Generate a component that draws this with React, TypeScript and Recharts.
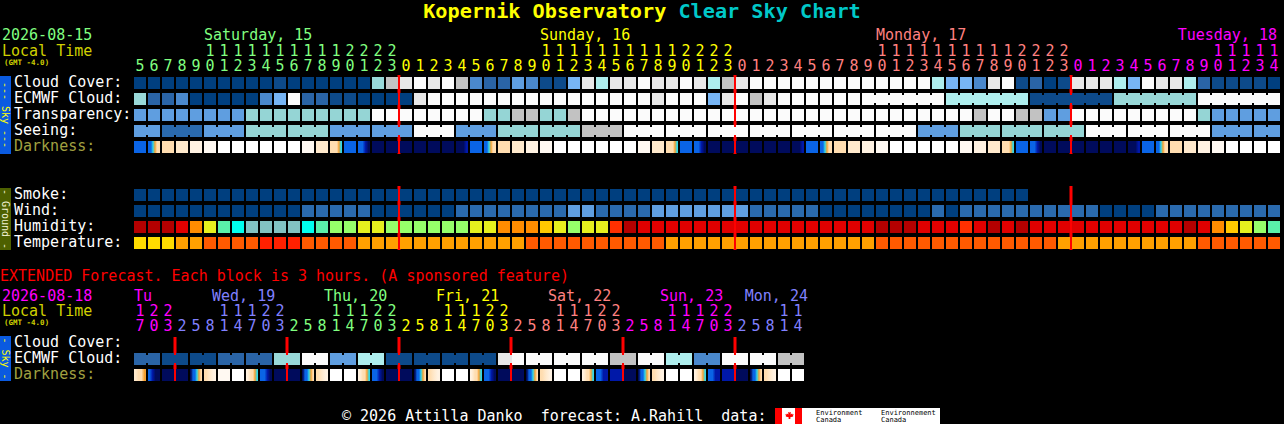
import React from 'react';
import { ScatterChart, Scatter, XAxis, YAxis, ReferenceLine } from 'recharts';

// hourly forecast, Sat 15 05h .. Tue 18 14h (82 hours)
// cloud cover, %
const CLOUD = [
  0, 0, 0, 0, 0, 0, 0, 0, 0, 0,
  10, 0, 0, 0, 0, 0, 0, 60, 80, 90,
  100, 90, 100, 80, 30, 20, 20, 40, 30, 10,
  10, 50, 90, 70, 90, 90, 100, 90, 90, 100,
  90, 70, 80, 90, 100, 100, 100, 100, 100, 100,
  100, 100, 100, 100, 100, 100, 100, 70, 50, 50,
  30, 90, 100, 10, 20, 0, 10, 90, 90, 90,
  70, 50, 100, 90, 90, 70, 20, 10, 10, 10,
  10, 0,
];

// ECMWF cloud, %
const ECMWF = [
  60, 20, 20, 30, 0, 0, 0, 0, 0, 30,
  50, 100, 20, 20, 10, 10, 0, 0, 0, 0,
  90, 100, 100, 100, 100, 100, 100, 100, 100, 100,
  100, 100, 100, 100, 100, 100, 100, 90, 100, 100,
  100, 50, 90, 100, 80, 90, 100, 100, 100, 100,
  100, 100, 100, 100, 100, 100, 100, 100, 70, 70,
  70, 70, 70, 70, 10, 10, 10, 10, 10, 10,
  60, 60, 60, 60, 60, 60, 100, 100, 100, 100,
  100, 100,
];

// 0 transparent .. 4 poor, 5 too cloudy
const TRANSPARENCY = [
  2, 2, 2, 2, 2, 2, 2, 2, 3, 3,
  3, 3, 3, 3, 3, 3, 3, 5, 5, 5,
  5, 5, 5, 5, 5, 3, 3, 4, 4, 3,
  3, 4, 5, 5, 5, 5, 5, 5, 5, 5,
  5, 5, 5, 5, 5, 5, 5, 5, 5, 5,
  5, 5, 5, 5, 5, 5, 5, 5, 5, 5,
  4, 5, 5, 4, 4, 2, 2, 5, 5, 5,
  5, 5, 5, 5, 5, 5, 3, 2, 2, 2,
  2, 2,
];

// 0 excellent .. 4 bad, 5 too cloudy to forecast
const SEEING = [
  2, 2, 1, 1, 1, 2, 2, 2, 3, 3,
  3, 3, 3, 3, 2, 2, 2, 2, 2, 2,
  5, 5, 5, 2, 2, 2, 3, 3, 3, 3,
  3, 3, 4, 4, 4, 5, 5, 5, 5, 5,
  5, 5, 5, 5, 5, 5, 5, 5, 5, 5,
  5, 5, 5, 5, 5, 5, 2, 2, 2, 3,
  3, 3, 3, 3, 3, 3, 3, 3, 5, 5,
  5, 5, 5, 5, 5, 5, 5, 2, 2, 2,
  2, 2,
];

// darkness, one letter per part of the hour (N night .. W daylight)
const DARKNESS = [
  'B', 'BBCOPP', 'P', 'Q', 'R', 'S', 'W', 'W', 'W', 'W',
  'W', 'W', 'S', 'Q', 'PPPPOC', 'B', 'BBDN', 'N', 'N', 'N',
  'N', 'N', 'N', 'NNND', 'B', 'BBCOPP', 'P', 'Q', 'R', 'S',
  'W', 'W', 'W', 'W', 'W', 'W', 'S', 'Q', 'PPPPOC', 'B',
  'BBDN', 'N', 'N', 'N', 'N', 'N', 'N', 'NNND', 'B', 'BBCOPP',
  'P', 'Q', 'R', 'S', 'W', 'W', 'W', 'W', 'W', 'S',
  'R', 'Q', 'PPPPOC', 'B', 'BBDN', 'N', 'N', 'N', 'N', 'N',
  'N', 'NNND', 'B', 'BBCOPP', 'P', 'Q', 'R', 'S', 'W', 'W',
  'W', 'W',
];

// smoke, ug/m3 (only the first 64 hours)
const SMOKE = [
  0, 0, 0, 0, 0, 0, 0, 0, 0, 0, 0, 0, 0, 0, 0, 0,
  0, 0, 0, 0, 0, 0, 0, 0, 0, 0, 0, 0, 0, 0, 0, 0,
  0, 0, 0, 0, 0, 0, 0, 0, 0, 0, 0, 0, 0, 0, 0, 0,
  0, 0, 0, 0, 0, 0, 0, 0, 0, 0, 0, 0, 0, 0, 0, 0,
];

// wind, mph
const WIND = [
  3, 3, 3, 3, 3, 3, 3, 3, 3, 3,
  3, 3, 8, 8, 8, 8, 8, 3, 3, 3,
  3, 3, 3, 8, 8, 8, 8, 8, 8, 8,
  8, 14, 14, 8, 8, 8, 8, 14, 14, 14,
  14, 14, 14, 14, 8, 8, 8, 8, 8, 3,
  3, 3, 3, 3, 3, 3, 3, 8, 3, 8,
  8, 8, 8, 8, 8, 8, 8, 8, 8, 3,
  3, 3, 3, 8, 8, 8, 8, 8, 8, 8,
  8, 8,
];

// humidity, %
const HUMIDITY = [
  97, 97, 97, 90, 72, 62, 52, 47, 42, 42,
  42, 42, 47, 52, 57, 57, 62, 62, 57, 57,
  57, 57, 57, 57, 62, 62, 72, 72, 72, 67,
  62, 57, 62, 62, 82, 97, 90, 90, 90, 90,
  90, 90, 90, 90, 90, 90, 90, 90, 90, 90,
  90, 90, 90, 97, 97, 97, 90, 90, 90, 82,
  90, 97, 90, 97, 90, 90, 90, 90, 90, 90,
  90, 90, 90, 90, 90, 97, 90, 72, 67, 62,
  57, 52,
];

// temperature, C
const TEMPERATURE = [
  18, 18, 18, 21, 21, 24, 24, 24, 24, 27,
  27, 27, 24, 24, 24, 24, 21, 21, 21, 21,
  21, 21, 21, 21, 21, 21, 21, 21, 24, 24,
  24, 24, 24, 24, 24, 24, 24, 24, 21, 21,
  21, 21, 21, 21, 21, 21, 21, 21, 21, 21,
  21, 21, 21, 24, 24, 24, 24, 24, 24, 24,
  24, 24, 24, 24, 24, 24, 21, 21, 21, 21,
  21, 21, 21, 21, 21, 21, 24, 24, 24, 24,
  24, 24,
];

// extended forecast, 3-hour blocks, Tue 18 17h .. Mon 24 14h
const EXT_ECMWF = [
  20, 20, 10, 10, 10, 10, 20, 20, 20, 20,
  60, 60, 100, 100, 40, 40, 70, 70, 10, 10,
  10, 10, 10, 10, 10, 10, 90, 100, 100, 100,
  100, 100, 100, 100, 80, 80, 100, 100, 70, 70,
  30, 30, 100, 100, 100, 100, 80, 80,
];

const EXT_DARKNESS = [
  'QPPO', 'BDNN', 'N', 'N', 'NBBCOP', 'PQR', 'S', 'W', 'RQPPOC', 'BBDN',
  'N', 'N', 'NBBCOP', 'PQR', 'W', 'W', 'RQPPOC', 'BBDN', 'N', 'N',
  'NBBCOP', 'PQR', 'W', 'W', 'RQPPOC', 'BBDN', 'N', 'N', 'NBBCOP', 'PQR',
  'W', 'W', 'RQPPOC', 'BBDD', 'D', 'N', 'NBBCOP', 'PQR', 'W', 'W',
  'RQPPOC', 'BBDD', 'D', 'N', 'NBBCOP', 'PQR', 'W', 'W',
];

const MAIN_DAYS = [
  { name: 'Saturday, 15', start: 5, count: 19 },
  { name: 'Sunday, 16', start: 0, count: 24 },
  { name: 'Monday, 17', start: 0, count: 24 },
  { name: 'Tuesday, 18', start: 0, count: 15 },
];

const EXT_DAYS = [
  { name: 'Tu', start: 17, count: 3 },
  { name: 'Wed, 19', start: 2, count: 8 },
  { name: 'Thu, 20', start: 2, count: 8 },
  { name: 'Fri, 21', start: 2, count: 8 },
  { name: 'Sat, 22', start: 2, count: 8 },
  { name: 'Sun, 23', start: 2, count: 8 },
  { name: 'Mon, 24', start: 2, count: 5 },
];

// ---- look ----
const W = 1284;
const H = 424;
const FONT = '"DejaVu Sans Mono", monospace';
const FS = 15;
const CHAR_W = FS * 0.602;

const CLOUD_COLORS = ['#003F7F', '#0D4A8A', '#2A64A6', '#4A88CC', '#5F9EE0', '#77B5F5', '#99D9D9', '#AEEEEE', '#C2C2C2', '#E8E8E8', '#FBFBFB'];
const SKY_COLORS = ['#003F7F', '#2A6AAE', '#5F9EE0', '#95D5D5', '#C2C2C2', '#FBFBFB'];
const DARK_COLORS: Record<string, string> = {
  N: '#000B5C', D: '#0018A8', B: '#0A64E6', C: '#30D8E8', O: '#F5A030',
  P: '#FFDDB0', Q: '#FFE9CC', R: '#FFF2E2', S: '#FFF9F2', W: '#FFFFFF',
};
const DAY_COLORS = ['#80FF80', '#FFFF00', '#FF8080', '#FF00FF', '#8080FF'];

const windColor = (v: number) => (v <= 5 ? '#003F7F' : v <= 11 ? '#2A6AAE' : '#5F9EE0');
const tempColor = (v: number) => (v < 20 ? '#FFDC00' : v < 23 ? '#FFA000' : v < 26 ? '#FF5A00' : '#FF2000');
const HUM_STEPS: [number, string][] = [
  [45, '#82C2C2'], [50, '#00FFEE'], [55, '#5AF0AA'], [60, '#96FF6A'], [65, '#E6F01E'],
  [70, '#FFC800'], [75, '#FF8C00'], [85, '#FF3000'], [95, '#E00000'], [101, '#B40000'],
];
const humColor = (v: number) => HUM_STEPS.find(([lim]) => v < lim)![1];

// row centres (px)
const ROW = {
  cloud: 83, ecmwf: 99, transp: 115, seeing: 131, dark: 147,
  smoke: 195, wind: 211, hum: 227, temp: 243,
  xEcmwf: 359, xDark: 375,
};

// column i is centred at 140 + 14 i
const X_DOMAIN = [-10, (W - 140) / 14];

const cells = (vals: number[], y: number, color: (v: number) => string, join?: (i: number) => boolean) =>
  vals.map((v, i) => ({ x: i, y, fill: color(v), join: join ? join(i) && i < vals.length - 1 : false }));

const darkCells = (codes: string[], y: number, tag: string) =>
  codes.map((code, i) => ({ x: i, y, code, id: `${tag}${i}` }));

const Block = (p: any) => {
  const { cx, cy, payload } = p;
  if (cx == null || cy == null) return null;
  return (
    <g>
      <rect x={cx - 6} y={cy - 6} width={12} height={12} fill={payload.fill} />
      {payload.join && <rect x={cx + 5} y={cy - 4} width={4} height={8} fill={payload.fill} />}
    </g>
  );
};

const DarkBlock = (p: any) => {
  const { cx, cy, payload } = p;
  if (cx == null || cy == null) return null;
  const parts: string[] = payload.code.split('');
  if (parts.length === 1) {
    return <rect x={cx - 6} y={cy - 6} width={12} height={12} fill={DARK_COLORS[parts[0]]} />;
  }
  const gid = `dk-${payload.id}`;
  return (
    <g>
      <defs>
        <linearGradient id={gid} x1="0" x2="1" y1="0" y2="0">
          {parts.map((c, k) => (
            <stop key={k} offset={(k + 0.5) / parts.length} stopColor={DARK_COLORS[c]} />
          ))}
        </linearGradient>
      </defs>
      <rect x={cx - 6} y={cy - 6} width={12} height={12} fill={`url(#${gid})`} />
    </g>
  );
};

const Digit = (p: any) => {
  const { cx, cy, payload } = p;
  if (cx == null) return null;
  return (
    <text x={cx} y={cy} textAnchor="middle" fill={payload.color} fontFamily={FONT} fontSize={FS}>
      {payload.t}
    </text>
  );
};

const DayName = (p: any) => {
  const { cx, cy, payload } = p;
  if (cx == null) return null;
  const w = payload.t.length * CHAR_W;
  let left = cx - 7 + payload.shift;
  if (left + w > payload.max) left = payload.max - w;
  if (left < 134) left = 134;
  return (
    <text x={left} y={cy} fill={payload.color} fontFamily={FONT} fontSize={FS}>
      {payload.t}
    </text>
  );
};

// hour ticks
const mainHours = MAIN_DAYS.flatMap((d, di) => Array.from({ length: d.count }, (_, k) => ({ day: di, hour: d.start + k })));
const extHours = EXT_DAYS.flatMap((d, di) => Array.from({ length: d.count }, (_, k) => ({ day: di, hour: d.start + 3 * k })));

const tickRows = (hours: { day: number; hour: number }[], tensY: number, onesY: number, dayOffset: number) => {
  const color = (day: number) => DAY_COLORS[(day + dayOffset) % DAY_COLORS.length];
  const tens = hours
    .map((h, i) => ({ x: i, y: tensY, t: h.hour >= 10 ? String(Math.floor(h.hour / 10)) : '', color: color(h.day) }))
    .filter((d) => d.t);
  const ones = hours.map((h, i) => ({ x: i, y: onesY, t: String(h.hour % 10), color: color(h.day) }));
  return { tens, ones };
};

const dayRow = (days: { name: string }[], hours: { day: number; hour: number }[], y: number, dayOffset: number, shift: number, max: number) =>
  days.map((d, di) => {
    let first = hours.findIndex((h) => h.day === di && h.hour >= 10);
    if (first < 0) first = hours.findIndex((h) => h.day === di);
    return { x: first, y, t: d.name, color: DAY_COLORS[(di + dayOffset) % DAY_COLORS.length], shift, max };
  });

const midnights = (hours: { day: number }[]) =>
  hours.map((h, i) => (i > 0 && h.day !== hours[i - 1].day ? i - 0.5 : null)).filter((v): v is number => v !== null);

const mainTicks = tickRows(mainHours, 56, 71, 0);
const extTicks = tickRows(extHours, 316, 331, 3);
const mainDayLabels = dayRow(MAIN_DAYS, mainHours, 40, 0, 1, 1277);
const extDayLabels = dayRow(EXT_DAYS, extHours, 301, 3, -5, 808);

const seeingJoin = (i: number) => i % 3 !== 1;
const ecmwfJoin = (i: number) => i >= 52 && (i - 52) % 6 !== 5;
const extJoin = (i: number) => i % 2 === 0;

const series = [
  cells(CLOUD, ROW.cloud, (v) => CLOUD_COLORS[Math.round(v / 10)]),
  cells(ECMWF, ROW.ecmwf, (v) => CLOUD_COLORS[Math.round(v / 10)], ecmwfJoin),
  cells(TRANSPARENCY, ROW.transp, (v) => SKY_COLORS[v]),
  cells(SEEING, ROW.seeing, (v) => SKY_COLORS[v], seeingJoin),
  cells(SMOKE, ROW.smoke, () => '#003F7F'),
  cells(WIND, ROW.wind, windColor),
  cells(HUMIDITY, ROW.hum, humColor),
  cells(TEMPERATURE, ROW.temp, tempColor),
  cells(EXT_ECMWF, ROW.xEcmwf, (v) => CLOUD_COLORS[Math.round(v / 10)], extJoin),
];

const label = (x: number, y: number, text: string, fill = '#FFFFFF') => (
  <text key={`${text}-${y}`} x={x} y={y} fill={fill} fontFamily={FONT} fontSize={FS} style={{ whiteSpace: 'pre' }}>
    {text}
  </text>
);

const SideBar = ({ y0, y1, fill, text, color }: { y0: number; y1: number; fill: string; text: string; color: string }) => (
  <g>
    <rect x={0} y={y0} width={11} height={y1 - y0} fill={fill} />
    <text
      transform={`translate(5.5,${(y0 + y1) / 2}) rotate(90)`}
      textAnchor="middle"
      dominantBaseline="central"
      fill={color}
      fontFamily={FONT}
      fontSize={10}
    >
      {text}
    </text>
  </g>
);

export default function App() {
  const mainMid = midnights(mainHours);
  const extMid = midnights(extHours);
  return (
    <div style={{ position: 'relative', width: W, height: H, background: '#000', overflow: 'hidden' }}>
      <style>{'body{margin:0;background:#000}'}</style>
      <ScatterChart width={W} height={H} margin={{ top: 0, right: 0, bottom: 0, left: 0 }}>
        <XAxis type="number" dataKey="x" domain={X_DOMAIN} allowDataOverflow hide />
        <YAxis type="number" dataKey="y" domain={[0, H]} allowDataOverflow reversed hide />
        {series.map((data, k) => (
          <Scatter key={`s${k}`} data={data} shape={Block} isAnimationActive={false} />
        ))}
        <Scatter data={darkCells(DARKNESS, ROW.dark, 'm')} shape={DarkBlock} isAnimationActive={false} />
        <Scatter data={darkCells(EXT_DARKNESS, ROW.xDark, 'e')} shape={DarkBlock} isAnimationActive={false} />
        <Scatter data={mainTicks.tens} shape={Digit} isAnimationActive={false} />
        <Scatter data={mainTicks.ones} shape={Digit} isAnimationActive={false} />
        <Scatter data={extTicks.tens} shape={Digit} isAnimationActive={false} />
        <Scatter data={extTicks.ones} shape={Digit} isAnimationActive={false} />
        <Scatter data={mainDayLabels} shape={DayName} isAnimationActive={false} />
        <Scatter data={extDayLabels} shape={DayName} isAnimationActive={false} />
        {mainMid.map((x) => (
          <ReferenceLine key={`ms${x}`} segment={[{ x, y: 75 }, { x, y: 154 }]} stroke="#FF0000" strokeWidth={3} />
        ))}
        {mainMid.map((x) => (
          <ReferenceLine key={`mg${x}`} segment={[{ x, y: 186 }, { x, y: 250 }]} stroke="#FF0000" strokeWidth={3} />
        ))}
        {extMid.map((x) => (
          <ReferenceLine key={`e${x}`} segment={[{ x, y: 337 }, { x, y: 381 }]} stroke="#FF0000" strokeWidth={3} />
        ))}
      </ScatterChart>

      <svg width={W} height={H} style={{ position: 'absolute', left: 0, top: 0, pointerEvents: 'none' }}>
        <text x={642} y={18} textAnchor="middle" fontFamily={FONT} fontSize={20.2} fontWeight="bold" style={{ whiteSpace: 'pre' }}>
          <tspan fill="#FFFF00">Kopernik Observatory</tspan>
          <tspan fill="#00C8C8"> Clear Sky Chart</tspan>
        </text>

        {label(2, 40, '2026-08-15', '#80FF80')}
        {label(2, 56, 'Local Time', '#D0D000')}
        <text x={4} y={65} fill="#D0D000" fontFamily={FONT} fontSize={7.5} fontWeight="bold">(GMT -4.0)</text>

        {label(14, 87, 'Cloud Cover:')}
        {label(14, 103, 'ECMWF Cloud:')}
        {label(14, 119, 'Transparency:')}
        {label(14, 135, 'Seeing:')}
        {label(14, 151, 'Darkness:', '#A0A040')}
        {label(14, 199, 'Smoke:')}
        {label(14, 215, 'Wind:')}
        {label(14, 231, 'Humidity:')}
        {label(14, 247, 'Temperature:')}

        <SideBar y0={76} y1={154} fill="#0A5AE0" text="--- Sky ---" color="#FFFF00" />
        <SideBar y0={188} y1={250} fill="#4D6000" text="- Ground -" color="#F0F0D0" />

        {label(0, 281, 'EXTENDED Forecast. Each block is 3 hours. (A sponsored feature)', '#FF0000')}
        {label(2, 301, '2026-08-18', '#FF00FF')}
        {label(2, 316, 'Local Time', '#D0D000')}
        <text x={4} y={325} fill="#D0D000" fontFamily={FONT} fontSize={7.5} fontWeight="bold">(GMT -4.0)</text>
        {label(14, 347, 'Cloud Cover:')}
        {label(14, 363, 'ECMWF Cloud:')}
        {label(14, 379, 'Darkness:', '#A0A040')}
        <SideBar y0={336} y1={381} fill="#0A5AE0" text="- Sky -" color="#FFFF00" />

        {label(342, 421, '© 2026 Attilla Danko  forecast: A.Rahill  data:')}
        <rect x={775} y={408} width={7} height={16} fill="#FF0000" />
        <rect x={782} y={408} width={13} height={16} fill="#FFFFFF" />
        <rect x={795} y={408} width={7} height={16} fill="#FF0000" />
        <path
          d="M788.5 410.5 l1 2 1.4-0.6 -0.4 2.6 1.6-1 0.4 1 1.3-0.2 -0.9 1.7 0.5 0.5 -3.1 0.7 0.1 1.8 h-1.8 l0.1-1.8 -3.1-0.7 0.5-0.5 -0.9-1.7 1.3 0.2 0.4-1 1.6 1 -0.4-2.6 1.4 0.6z"
          fill="#FF0000"
        />
        <rect x={802} y={408} width={138} height={16} fill="#FFFFFF" />
        <text x={816} y={415} fill="#000" fontFamily={FONT} fontSize={7}>Environment</text>
        <text x={816} y={422} fill="#000" fontFamily={FONT} fontSize={7}>Canada</text>
        <text x={881} y={415} fill="#000" fontFamily={FONT} fontSize={7}>Environnement</text>
        <text x={881} y={422} fill="#000" fontFamily={FONT} fontSize={7}>Canada</text>
      </svg>
    </div>
  );
}
